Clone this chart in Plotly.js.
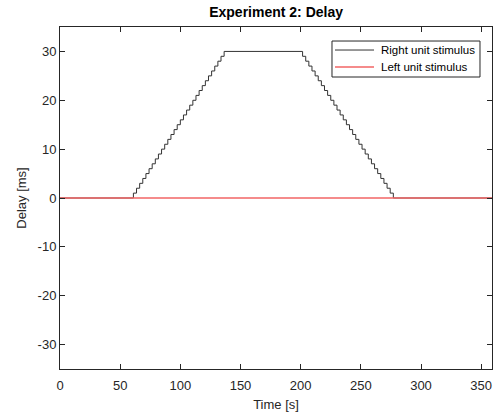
<!DOCTYPE html>
<html>
<head>
<meta charset="utf-8">
<script src="https://cdn.plot.ly/plotly-3.0.1.min.js"></script>
<style>html,body{margin:0;padding:0;background:#fff;}#chart{width:494px;height:415px;}</style>
</head>
<body>
<div id="chart"></div>
<script>
// Right unit stimulus: staircase delay (ms) at step times (s)
const rightTime = [0,
  61.0, 63.6, 66.2, 68.8, 71.4, 74.0, 76.6, 79.2, 81.8, 84.4,
  87.0, 89.6, 92.2, 94.8, 97.4, 100.0, 102.6, 105.2, 107.8, 110.4,
  113.0, 115.6, 118.2, 120.8, 123.4, 126.0, 128.6, 131.2, 133.8, 136.4,
  201.6, 204.2, 206.8, 209.4, 212.0, 214.6, 217.2, 219.8, 222.4, 225.0,
  227.6, 230.2, 232.8, 235.4, 238.0, 240.6, 243.2, 245.8, 248.4, 251.0,
  253.6, 256.2, 258.8, 261.4, 264.0, 266.6, 269.2, 271.8, 274.4, 277.0,
  359];
const rightDelay = [0,
  1, 2, 3, 4, 5, 6, 7, 8, 9, 10,
  11, 12, 13, 14, 15, 16, 17, 18, 19, 20,
  21, 22, 23, 24, 25, 26, 27, 28, 29, 30,
  29, 28, 27, 26, 25, 24, 23, 22, 21, 20,
  19, 18, 17, 16, 15, 14, 13, 12, 11, 10,
  9, 8, 7, 6, 5, 4, 3, 2, 1, 0,
  0];
// Left unit stimulus: constant zero delay
const leftTime = [0, 359];
const leftDelay = [0, 0];

const xTicks = [0, 50, 100, 150, 200, 250, 300, 350];
const yTicks = [-30, -20, -10, 0, 10, 20, 30];
const seriesNames = ['Right unit stimulus', 'Left unit stimulus'];
const seriesColors = ['#333333', '#f26464'];

const fam = 'Liberation Sans, Arial, sans-serif';
const font = {family: fam, size: 13, color: '#262626'};

const traces = [
  {x: rightTime, y: rightDelay, type: 'scatter', mode: 'lines', name: seriesNames[0],
   line: {color: seriesColors[0], width: 1, shape: 'hv'}},
  {x: leftTime, y: leftDelay, type: 'scatter', mode: 'lines', name: seriesNames[1],
   line: {color: seriesColors[1], width: 1.5}}
];

const axisCommon = {
  showline: true, linecolor: '#262626', linewidth: 1, mirror: 'ticks',
  ticks: 'inside', ticklen: 5, tickcolor: '#262626', tickwidth: 1,
  showgrid: false, zeroline: false, tickfont: font
};

// MATLAB-style legend box (drawn in paper coordinates)
const legBox = {x0: 0.6296, x1: 0.9722, y0: 0.8538, y1: 0.959};
const legRowsY = [0.9327, 0.883];
const shapes = [
  {type: 'rect', xref: 'paper', yref: 'paper', x0: legBox.x0, x1: legBox.x1, y0: legBox.y0, y1: legBox.y1,
   fillcolor: '#ffffff', line: {color: '#262626', width: 1}, layer: 'above'}
];
const annotations = [];
seriesNames.forEach((n, i) => {
  shapes.push({type: 'line', xref: 'paper', yref: 'paper', x0: 0.6366, x1: 0.7269, y0: legRowsY[i], y1: legRowsY[i],
               line: {color: seriesColors[i], width: i === 1 ? 1.5 : 1}, layer: 'above'});
  annotations.push({xref: 'paper', yref: 'paper', x: 0.7384, y: legRowsY[i], xanchor: 'left', yanchor: 'middle',
                    text: n, showarrow: false, font: {family: fam, size: 11.5, color: '#000000'}});
});

const layout = {
  width: 494, height: 415,
  margin: {l: 60, r: 2, t: 27, b: 46},
  paper_bgcolor: '#ffffff', plot_bgcolor: '#ffffff',
  font: font,
  title: {text: '<b>Experiment 2: Delay</b>', font: {family: fam, size: 14, color: '#000000'},
          x: 0.5589, xanchor: 'center', y: 0.971, yanchor: 'middle'},
  xaxis: Object.assign({}, axisCommon, {range: [0, 359], tickvals: xTicks, ticktext: xTicks.map(String),
          ticklabelstandoff: 4,
          title: {text: 'Time [s]', font: font, standoff: 8}}),
  yaxis: Object.assign({}, axisCommon, {range: [-35, 35], tickvals: yTicks, ticktext: yTicks.map(String),
          title: {text: 'Delay [ms]', font: font, standoff: 8}}),
  showlegend: false,
  shapes: shapes,
  annotations: annotations
};

Plotly.newPlot('chart', traces, layout, {displayModeBar: false, staticPlot: true});
</script>
</body>
</html>
